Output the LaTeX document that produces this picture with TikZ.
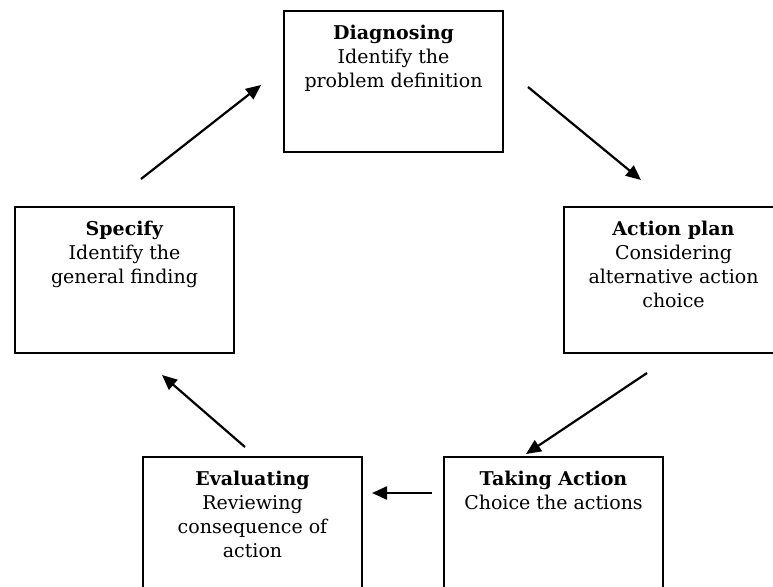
\documentclass[tikz,border=0pt]{standalone}
\usepackage{fontspec}
\setmainfont{DejaVu Serif}
\usetikzlibrary{arrows.meta,positioning}

\begin{document}
\begin{tikzpicture}
	[x=1pt,y=-1pt,
	stage/.style={draw,line width=2pt,minimum width=219pt,minimum height=146pt,inner sep=0pt},
	stage text/.style={align=center,inner sep=0pt,font=\fontsize{19}{24}\selectfont},
	flow/.style={line width=2.2pt,-{Triangle[length=15pt,width=13pt]}}]
	\useasboundingbox (0,0) rectangle (773,586);
	
	\node[stage,anchor=north west,minimum height=141pt] (diag) at (283,10) {};
	\node[stage,anchor=north west] (plan) at (563,206) {};
	\node[stage,anchor=north west,minimum height=150pt] (take) at (443,456) {};
	\node[stage,anchor=north west,minimum height=150pt] (eval) at (142,456) {};
	\node[stage,anchor=north west] (spec) at (14,206) {};
	
	\node[stage text,below=15pt of diag.north] (diagtext) {\textbf{Diagnosing}\\Identify the\\problem definition};
	\node[stage text,below=15pt of plan.north] (plantext) {\textbf{Action plan}\\Considering\\alternative action\\choice};
	\node[stage text,below=15pt of take.north] (taketext) {\textbf{Taking Action}\\Choice the actions};
	\node[stage text,below=15pt of eval.north] (evaltext) {\textbf{Evaluating}\\Reviewing\\consequence of\\action};
	\node[stage text,below=15pt of spec.north] (spectext) {\textbf{Specify}\\Identify the\\general finding};
	
	\coordinate (s1) at (141,179);
	\coordinate (d1) at (261,85);
	\coordinate (d2) at (528,87);
	\coordinate (p1) at (641,180);
	\coordinate (p2) at (647,373);
	\coordinate (t1) at (526,454);
	\coordinate (t2) at (432,493);
	\coordinate (e1) at (372,493);
	\coordinate (e2) at (245,447);
	\coordinate (s2) at (162,375);
	
	\draw[flow] (s1) -- (d1);
	\draw[flow] (d2) -- (p1);
	\draw[flow] (p2) -- (t1);
	\draw[flow] (t2) -- (e1);
	\draw[flow] (e2) -- (s2);
\end{tikzpicture}
\end{document}
